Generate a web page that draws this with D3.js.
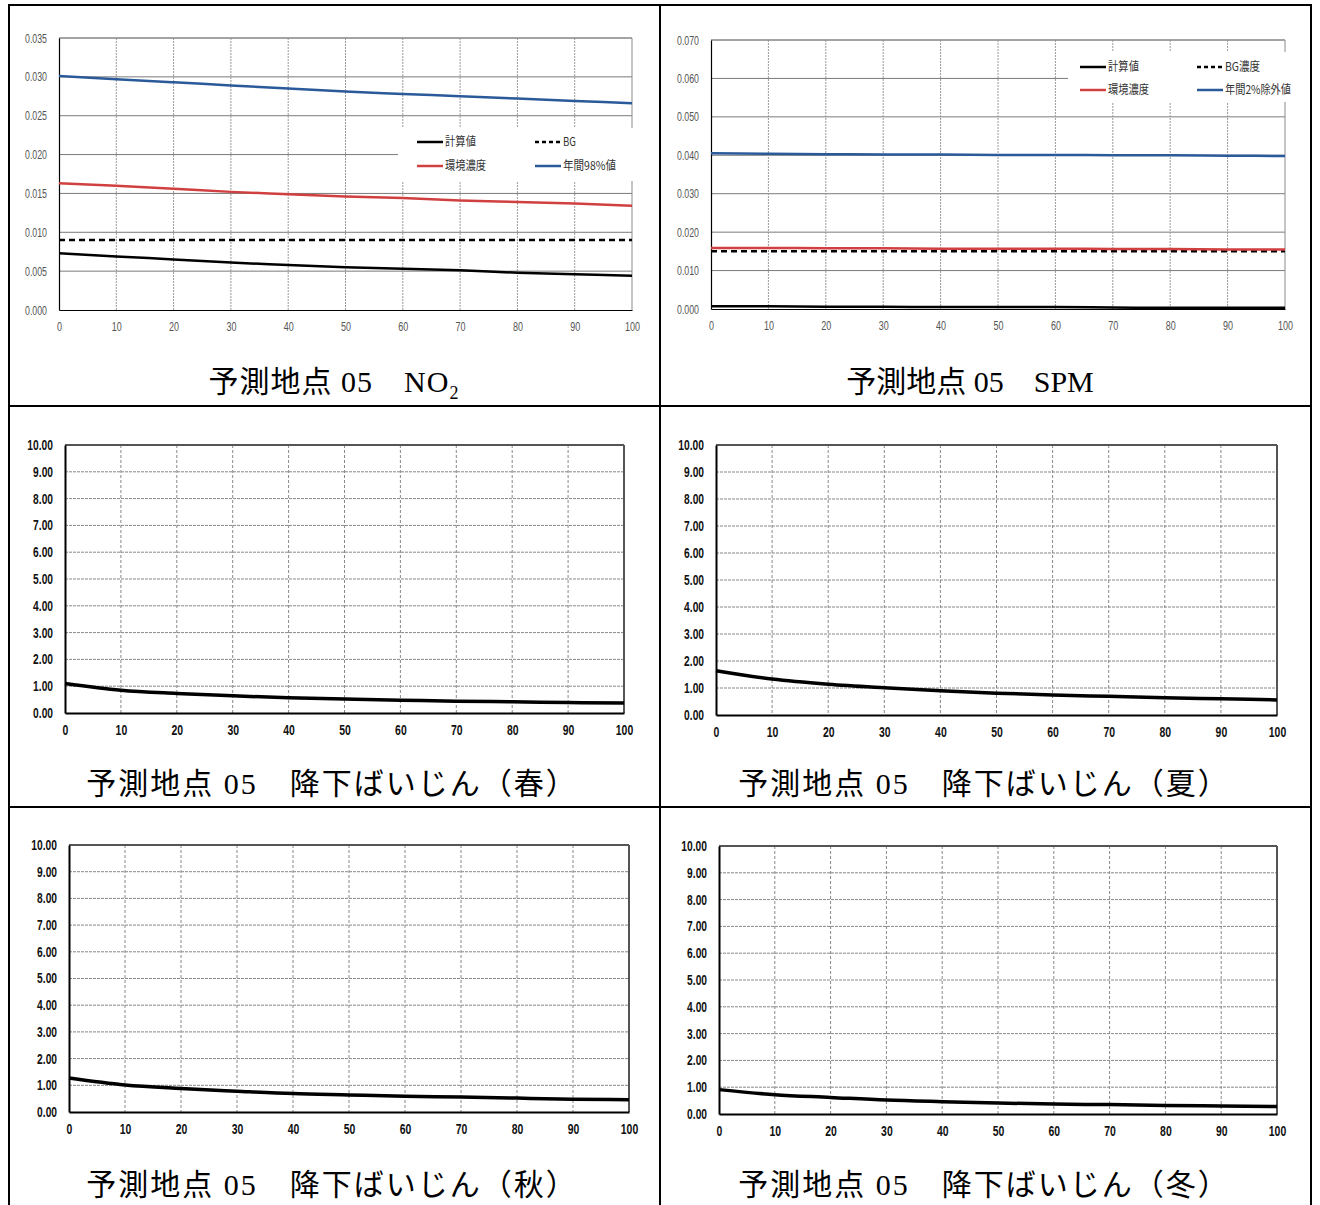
<!DOCTYPE html>
<html><head><meta charset="utf-8">
<script src="https://cdn.jsdelivr.net/npm/d3@7"></script>
<style>
html,body{margin:0;padding:0;background:#fff;}
svg{display:block;}
.tick-label{font-family:"Liberation Sans Narrow","Liberation Sans",Arial,sans-serif;}
.title{font-family:"Liberation Serif","Noto Sans CJK JP",serif;}
.legend-text{font-family:"Noto Sans CJK JP",sans-serif;}
</style></head>
<body>
<svg id="c" width="1320" height="1205"></svg>
<script>
// ---------- DATA ----------
const distances = [0,10,20,30,40,50,60,70,80,90,100];
const xTicks = [0,10,20,30,40,50,60,70,80,90,100];

// NO2 (ppm)
const no2Calc = [0.0073,0.0069,0.0065,0.0061,0.0058,0.0055,0.0053,0.0051,0.0048,0.0046,0.0044];
const no2BG   = [0.009,0.009,0.009,0.009,0.009,0.009,0.009,0.009,0.009,0.009,0.009];
const no2Env  = [0.0163,0.0160,0.0156,0.0152,0.0149,0.0146,0.0144,0.0141,0.0139,0.0137,0.0134];
const no2P98  = [0.0301,0.0297,0.0293,0.0289,0.0285,0.0281,0.0278,0.0275,0.0272,0.0269,0.0266];
const no2YTicks = [0,0.005,0.010,0.015,0.020,0.025,0.030,0.035];

// SPM (mg/m3)
const spmCalc = [0.0007,0.0007,0.0006,0.0006,0.0005,0.0005,0.0005,0.0004,0.0003,0.0003,0.0003];
const spmBG   = [0.015,0.015,0.015,0.015,0.015,0.015,0.015,0.015,0.015,0.015,0.015];
const spmEnv  = [0.0159,0.0159,0.0158,0.0158,0.0157,0.0157,0.0157,0.0156,0.0156,0.0155,0.0155];
const spmP2   = [0.0405,0.0404,0.0403,0.0402,0.0402,0.0401,0.0401,0.0400,0.0400,0.0399,0.0398];
const spmYTicks = [0,0.010,0.020,0.030,0.040,0.050,0.060,0.070];

// Dustfall (t/km2/month)
const dustSpring = [1.10,0.85,0.73,0.64,0.57,0.52,0.48,0.44,0.42,0.39,0.37];
const dustSummer = [1.64,1.33,1.14,1.01,0.90,0.81,0.74,0.69,0.64,0.60,0.56];
const dustAutumn = [1.27,1.01,0.88,0.78,0.69,0.64,0.59,0.56,0.52,0.48,0.46];
const dustWinter = [0.91,0.72,0.62,0.52,0.46,0.41,0.37,0.35,0.32,0.30,0.28];
const dustYTicks = [0,1,2,3,4,5,6,7,8,9,10];

const no2LegendLabels = ["計算値","BG","環境濃度","年間98%値"];
const spmLegendLabels = ["計算値","BG濃度","環境濃度","年間2%除外値"];
const titles = ["予測地点 05　NO","予測地点 05　SPM","予測地点 05　降下ばいじん（春）","予測地点 05　降下ばいじん（夏）","予測地点 05　降下ばいじん（秋）","予測地点 05　降下ばいじん（冬）"];

// ---------- DRAW ----------
const svg = d3.select("#c");

const frame = svg.append("g");
frame.append("rect").attr("x",9).attr("y",5).attr("width",1302).attr("height",1210)
  .attr("fill","none").attr("stroke","#000").attr("stroke-width",2);
frame.append("line").attr("x1",660).attr("x2",660).attr("y1",5).attr("y2",1210).attr("stroke","#000").attr("stroke-width",2);
frame.append("line").attr("x1",9).attr("x2",1311).attr("y1",406).attr("y2",406).attr("stroke","#000").attr("stroke-width",2);
frame.append("line").attr("x1",9).attr("x2",1311).attr("y1",807).attr("y2",807).attr("stroke","#000").attr("stroke-width",2);

function labelWidth(s, dw, pw){
  let w = 0;
  for(const ch of s){ w += (ch === ".") ? pw : dw; }
  return w;
}

function drawChart(cfg){
  const g = svg.append("g");
  const x = d3.scaleLinear().domain([0,100]).range([cfg.left,cfg.right]);
  const y = d3.scaleLinear().domain([0,cfg.yMax]).range([cfg.bottom,cfg.top]);

  g.append("g").selectAll("line").data(cfg.yTicks.filter(v=>v>0)).join("line")
    .attr("x1",cfg.left).attr("x2",cfg.right).attr("y1",d=>y(d)).attr("y2",d=>y(d))
    .attr("stroke",cfg.hGridColor).attr("stroke-width",1).attr("stroke-dasharray",cfg.hGridDash);
  g.append("g").selectAll("line").data(xTicks.filter(v=>v>0 && v<100)).join("line")
    .attr("y1",cfg.top).attr("y2",cfg.bottom).attr("x1",d=>x(d)).attr("x2",d=>x(d))
    .attr("stroke",cfg.vGridColor).attr("stroke-width",1).attr("stroke-dasharray",cfg.vGridDash);

  g.append("line").attr("x1",cfg.left).attr("x2",cfg.right).attr("y1",cfg.top).attr("y2",cfg.top)
    .attr("stroke",cfg.frameColor).attr("stroke-width",cfg.frameWidth);
  g.append("line").attr("x1",cfg.right).attr("x2",cfg.right).attr("y1",cfg.top).attr("y2",cfg.bottom)
    .attr("stroke",cfg.frameColor).attr("stroke-width",cfg.frameWidth);

  const yAxis = d3.axisLeft(y).tickValues(cfg.yTicks).tickSize(0).tickPadding(cfg.yPad).tickFormat(cfg.yFmt);
  const ya = g.append("g").attr("transform",`translate(${cfg.left},0)`).call(yAxis);
  const xAxis = d3.axisBottom(x).tickValues(xTicks).tickSize(0).tickPadding(cfg.xPad).tickFormat(d3.format("d"));
  const xa = g.append("g").attr("transform",`translate(0,${cfg.bottom})`).call(xAxis);
  [ya,xa].forEach(a=>{
    a.select(".domain").attr("stroke","#000").attr("stroke-width",cfg.axisWidth);
    a.selectAll("text").attr("class","tick-label").attr("font-size",cfg.tickSize)
      .attr("font-weight",cfg.tickWeight).attr("fill",cfg.tickColor)
      .attr("lengthAdjust","spacingAndGlyphs")
      .attr("textLength",function(){ return labelWidth(this.textContent,cfg.digitW,cfg.dotW); });
  });

  if(cfg.legend){
    const L = cfg.legend;
    g.append("rect").attr("x",L.x).attr("y",L.y).attr("width",L.w).attr("height",L.h).attr("fill","#fff");
  }

  const line = d3.line().x((d,i)=>x(distances[i])).y(d=>y(d)).curve(d3.curveMonotoneX);
  cfg.series.forEach(s=>{
    g.append("path").attr("d",line(s.values)).attr("fill","none").attr("stroke",s.color)
      .attr("stroke-width",s.width).attr("stroke-dasharray",s.dash||null);
  });

  if(cfg.legend){
    const L = cfg.legend;
    cfg.series.forEach((s,i)=>{
      const col = i%2, row = Math.floor(i/2);
      const lx = L.x + L.col0 + col*L.colW, ly = L.y + L.row0 + row*L.rowH;
      g.append("line").attr("x1",lx).attr("x2",lx+L.lineW).attr("y1",ly).attr("y2",ly)
        .attr("stroke",s.color).attr("stroke-width",2.5).attr("stroke-dasharray",s.dash?"4,3":null);
      g.append("text").attr("class","legend-text").attr("x",lx+L.lineW+2).attr("y",ly+4)
        .attr("font-size",12).attr("fill","#333").attr("textLength",s.labelLen).attr("lengthAdjust","spacingAndGlyphs")
        .text(L.labels[i]);
    });
  }

  const t = g.append("text").attr("class","title").attr("x",cfg.titleX).attr("y",cfg.titleY)
    .attr("text-anchor","middle").attr("font-size",30).attr("letter-spacing",cfg.titleSpacing||0).attr("fill","#000");
  t.append("tspan").text(cfg.title);
  if(cfg.sub){ t.append("tspan").attr("font-size",18).attr("dy",7).text(cfg.sub); }
}

const gasBase = {yPad:12,xPad:12,tickSize:12.5,tickWeight:"normal",tickColor:"#555",axisWidth:1.2,digitW:5,dotW:2,
  hGridColor:"#7a7a7a",hGridDash:null,vGridColor:"#9a9a9a",vGridDash:"2,1",frameColor:"#8a8a8a",frameWidth:1};
const dustBase = {yMax:10,yTicks:dustYTicks,yFmt:d3.format(".2f"),yPad:12,xPad:12,tickSize:14,tickWeight:"bold",tickColor:"#111",axisWidth:2,
  digitW:5.8,dotW:2.5,
  hGridColor:"#888",hGridDash:"3,1",vGridColor:"#888",vGridDash:"3,2",frameColor:"#555",frameWidth:2,titleSpacing:2};

drawChart(Object.assign({},gasBase,{left:59,right:632,top:38,bottom:310,yMax:0.035,yTicks:no2YTicks,yFmt:d3.format(".3f"),
  series:[{values:no2Calc,color:"#000",width:2.5,labelLen:31},{values:no2BG,color:"#000",width:2.5,dash:"6,4",labelLen:13},
          {values:no2Env,color:"#d04040",width:2.5,labelLen:41},{values:no2P98,color:"#2a5a9a",width:2.5,labelLen:53}],
  legend:{x:398,y:128,w:236,h:53,col0:19,colW:118,row0:14,rowH:24,lineW:26,labels:no2LegendLabels},
  title:titles[0],sub:"2",titleX:334,titleY:392,titleSpacing:1}));

drawChart(Object.assign({},gasBase,{left:711,right:1285,top:40,bottom:309,yMax:0.07,yTicks:spmYTicks,yFmt:d3.format(".3f"),
  series:[{values:spmCalc,color:"#000",width:2.5,labelLen:31},{values:spmBG,color:"#000",width:2.5,dash:"6,4",labelLen:35},
          {values:spmEnv,color:"#d04040",width:2.5,labelLen:41},{values:spmP2,color:"#2a5a9a",width:2.5,labelLen:66}],
  legend:{x:1068,y:52,w:234,h:50,col0:12,colW:117,row0:15,rowH:23,lineW:26,labels:spmLegendLabels},
  title:titles[1],titleX:970,titleY:392,titleSpacing:0}));

drawChart(Object.assign({},dustBase,{left:65,right:624,top:445,bottom:713,
  series:[{values:dustSpring,color:"#000",width:3.5}],title:titles[2],titleX:332,titleY:794}));
drawChart(Object.assign({},dustBase,{left:716,right:1277,top:445,bottom:715,
  series:[{values:dustSummer,color:"#000",width:3.5}],title:titles[3],titleX:984,titleY:794}));
drawChart(Object.assign({},dustBase,{left:69,right:629,top:845,bottom:1112,
  series:[{values:dustAutumn,color:"#000",width:3.5}],title:titles[4],titleX:332,titleY:1195}));
drawChart(Object.assign({},dustBase,{left:719,right:1277,top:846,bottom:1114,
  series:[{values:dustWinter,color:"#000",width:3.5}],title:titles[5],titleX:984,titleY:1195}));
</script>
</body></html>
